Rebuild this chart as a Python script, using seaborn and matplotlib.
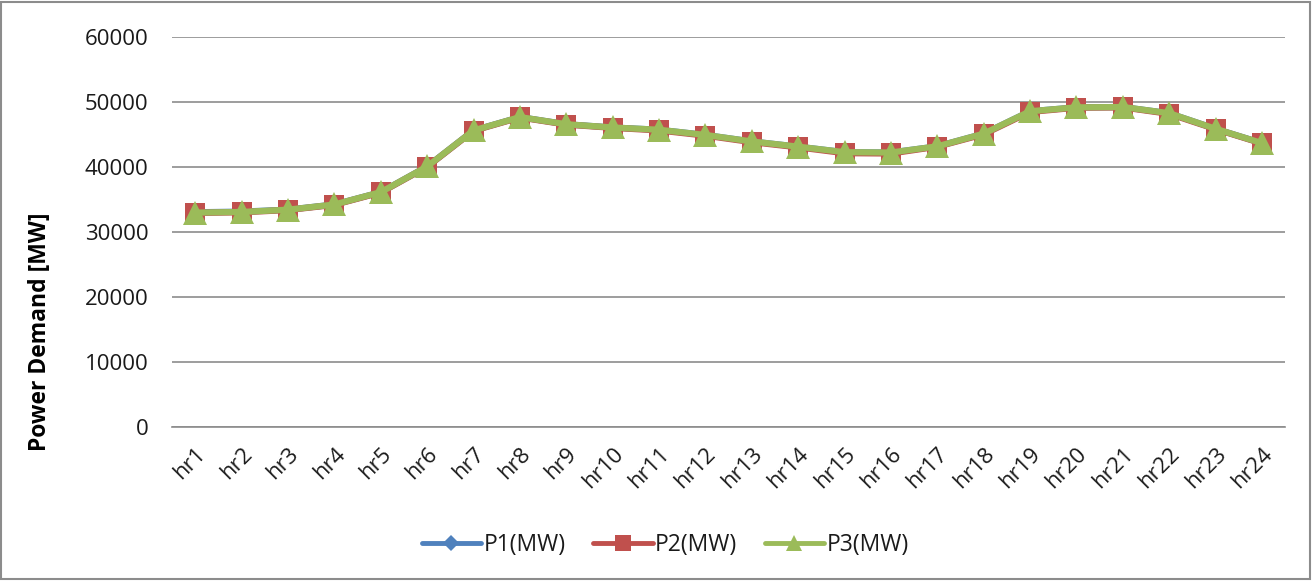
import matplotlib
matplotlib.use("Agg")
import matplotlib.pyplot as plt
import seaborn as sns
import pandas as pd
from matplotlib.patches import Rectangle

hours = [f"hr{i}" for i in range(1, 25)]
p1_mw = [33050, 33150, 33450, 34250, 36150, 40100, 45650, 47700, 46600, 46100, 45750, 44950,
         43950, 43150, 42300, 42250, 43200, 45150, 48600, 49200, 49250, 48300, 45900, 43700]
p2_mw = [32950, 33050, 33400, 34200, 36100, 40050, 45600, 47650, 46550, 46050, 45650, 44850,
         43850, 43050, 42150, 42100, 43150, 45050, 48500, 49150, 49200, 48200, 45850, 43650]
p3_mw = [33000, 33100, 33450, 34250, 36150, 40100, 45650, 47700, 46600, 46100, 45750, 44950,
         43950, 43150, 42300, 42250, 43200, 45150, 48600, 49200, 49250, 48300, 45900, 43700]
series_names = ["P1(MW)", "P2(MW)", "P3(MW)"]

df = pd.DataFrame({
    "hour": hours * 3,
    "power": p1_mw + p2_mw + p3_mw,
    "series": [series_names[0]] * 24 + [series_names[1]] * 24 + [series_names[2]] * 24,
})

sns.set_theme(style="white")
plt.rcParams["font.family"] = ["Open Sans", "DejaVu Sans"]

palette = {"P1(MW)": "#4F81BD", "P2(MW)": "#C0504D", "P3(MW)": "#9BBB59"}
markers = {"P1(MW)": "D", "P2(MW)": "s", "P3(MW)": "^"}
msizes = {"P1(MW)": 9, "P2(MW)": 15, "P3(MW)": 17}
legend_msizes = {"P1(MW)": 8, "P2(MW)": 12, "P3(MW)": 12}

fig = plt.figure(figsize=(13.14, 5.81), dpi=100)
ax = fig.add_axes([0.131, 0.265, 0.847, 0.671])

for name in series_names:
    sub = df[df["series"] == name]
    sns.lineplot(data=sub, x="hour", y="power", ax=ax, color=palette[name],
                 marker=markers[name], markersize=msizes[name], markeredgewidth=0,
                 linewidth=4.5, sort=False, label=name)

ax.set_xlim(-0.5, 23.5)
ax.set_ylim(0, 60000)
ax.set_yticks(range(0, 60001, 10000))
ax.yaxis.grid(True, color="#8c8c8c", linewidth=1.2)
ax.set_axisbelow(True)
for side in ["left", "right", "top"]:
    ax.spines[side].set_visible(False)
ax.spines["bottom"].set_color("#8c8c8c")
ax.spines["bottom"].set_linewidth(1.2)

ax.tick_params(axis="y", labelsize=16, length=0, pad=17, colors="#1a1a1a")
ax.tick_params(axis="x", labelsize=16, length=0, pad=12, colors="#1a1a1a")
for lbl in ax.get_xticklabels():
    lbl.set_rotation(45)
    lbl.set_ha("right")
    lbl.set_rotation_mode("anchor")

ax.set_xlabel("")
ax.set_ylabel("")
fig.text(40 / 1314, 1 - 332 / 581, "Power Demand [MW]", rotation=90, fontsize=16.5,
         fontweight="bold", ha="center", va="center", color="#000000")

leg = ax.legend(loc="center", bbox_to_anchor=(0.443, -0.302), ncol=3, frameon=False,
                fontsize=16.5, handlelength=2.6, handletextpad=0.1, columnspacing=1.2,
                labelcolor="#1a1a1a")
for h, name in zip(leg.legend_handles, series_names):
    h.set_linewidth(3.5)
    h.set_markersize(legend_msizes[name])

fig.patches.append(Rectangle((0.001, 0.003), 0.996, 0.994, transform=fig.transFigure,
                             fill=False, edgecolor="#8c8c8c", linewidth=1.5))

fig.savefig("out.png", dpi=100, facecolor="white")
